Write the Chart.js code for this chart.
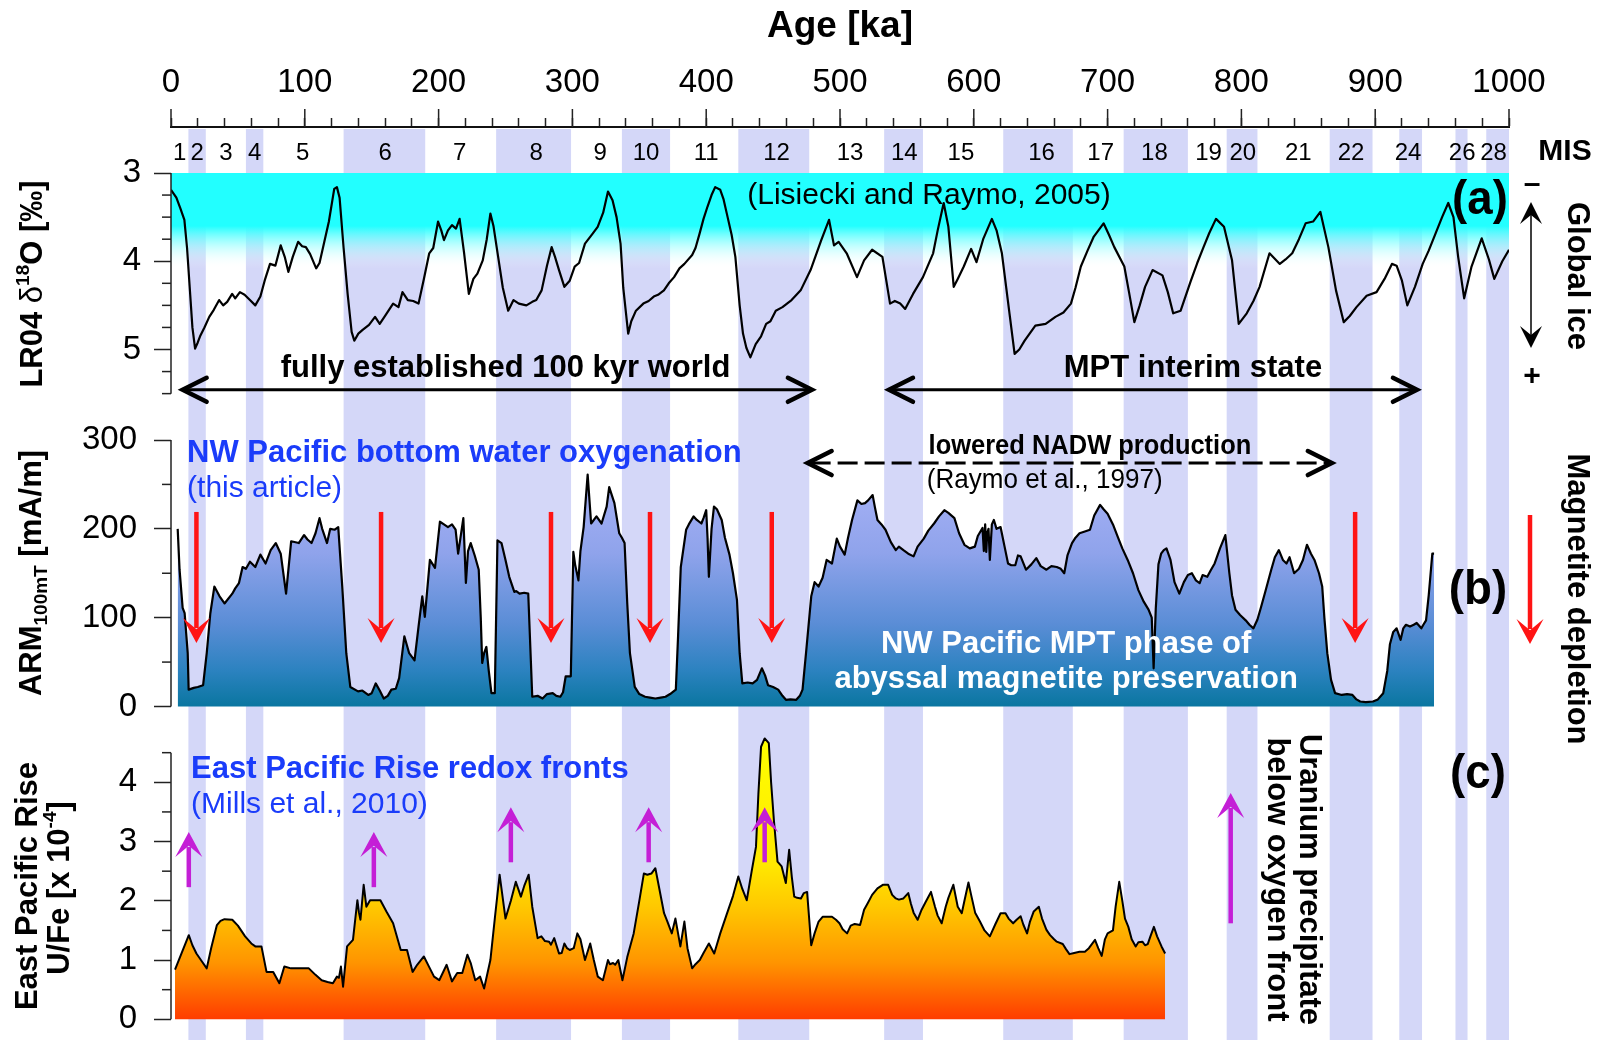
<!DOCTYPE html>
<html><head><meta charset="utf-8">
<script src="https://cdn.jsdelivr.net/npm/chart.js@4.4.1/dist/chart.umd.min.js"></script>
<style>html,body{margin:0;padding:0;background:#fff;}canvas{display:block;}</style>
</head><body>
<canvas id="c" width="1598" height="1040"></canvas>
<script>
// ---------------- DATA ----------------
// LR04 benthic d18O stack [age ka, permil]
const lr04 = [[0,3.19],[4,3.28],[7,3.40],[10,3.53],[12,3.85],[14,4.30],[16,4.75],[18,4.99],[20,4.92],[22,4.84],[25,4.75],[28.6,4.63],[32,4.55],[36,4.44],[39,4.50],[42,4.46],[45.7,4.37],[48,4.42],[51.5,4.35],[55,4.38],[59,4.44],[63,4.50],[66.8,4.40],[70,4.22],[74,4.03],[78,4.05],[82,3.82],[85,3.95],[87.7,4.12],[91,3.95],[95,3.78],[98,3.83],[100.8,3.84],[104,3.92],[108.5,4.08],[111,4.02],[114,3.82],[118,3.55],[122,3.18],[124,3.16],[126,3.28],[129,3.85],[132,4.37],[135,4.80],[137,4.90],[140,4.82],[143,4.78],[148,4.72],[152.5,4.63],[156,4.71],[160,4.62],[166,4.48],[170,4.52],[173,4.35],[177,4.44],[181,4.45],[185,4.48],[189,4.20],[193,3.91],[196,3.85],[199.6,3.55],[202,3.65],[204,3.76],[207,3.65],[210,3.59],[213,3.63],[215.7,3.52],[219,3.90],[222.6,4.37],[226,4.20],[229,4.14],[233,3.99],[236,3.75],[238.7,3.46],[241,3.60],[244.5,3.95],[248,4.30],[252,4.56],[256,4.44],[260,4.48],[265.6,4.50],[270,4.46],[273,4.44],[277,4.33],[281,4.05],[284.5,3.84],[287,3.95],[290,4.10],[294,4.29],[298,4.22],[301.7,4.06],[305,4.02],[309.4,3.80],[315,3.69],[318.9,3.61],[323,3.45],[326.6,3.21],[330,3.31],[333,3.50],[336,3.80],[338,4.30],[341.7,4.82],[344,4.68],[347.5,4.56],[353,4.48],[357,4.45],[360.8,4.40],[364,4.38],[368.4,4.33],[372,4.25],[376,4.18],[380,4.08],[383.7,4.03],[389.5,3.93],[392,3.85],[395,3.69],[398,3.52],[401,3.38],[404,3.25],[406.7,3.16],[410.5,3.19],[413,3.30],[416,3.50],[419,3.70],[421.8,3.95],[425,4.50],[427.5,4.82],[430,4.98],[433,5.09],[437,4.94],[441,4.85],[444.8,4.71],[448,4.68],[452,4.56],[457,4.52],[463.8,4.44],[470.6,4.33],[478,4.10],[486,3.76],[491.8,3.53],[495.5,3.82],[499,3.78],[505,3.91],[512.7,4.18],[518,3.99],[524,3.87],[531.7,3.95],[537.4,4.48],[541,4.45],[545,4.48],[548.7,4.54],[554.6,4.37],[562,4.18],[569.6,3.91],[573,3.65],[577.5,3.34],[581,3.61],[585,4.29],[588,4.20],[592.5,4.06],[598,3.86],[602,4.01],[607,3.75],[613.5,3.52],[617,3.65],[621,3.91],[627,4.63],[630.5,5.05],[634,5.00],[638,4.90],[646,4.73],[653.7,4.71],[661,4.63],[667,4.58],[672.6,4.48],[676,4.30],[680,4.06],[685,3.88],[689.7,3.72],[697,3.57],[701,3.70],[705,3.84],[712.5,4.06],[716,4.35],[720,4.69],[724,4.50],[728,4.29],[733.6,4.10],[741,4.16],[745,4.35],[749,4.59],[754.6,4.56],[762,4.23],[767,4.02],[771.7,3.84],[776,3.68],[781,3.52],[787,3.61],[793,3.99],[798,4.71],[804,4.59],[809,4.45],[813.6,4.29],[821,3.91],[828.7,4.03],[833,3.98],[838,3.91],[843,3.75],[848,3.57],[853.6,3.55],[859,3.44],[865,3.84],[870.7,4.33],[876.5,4.69],[881,4.62],[886,4.52],[893.6,4.39],[901,4.35],[907,4.20],[912.5,4.03],[916,4.05],[920,4.22],[924,4.50],[929.7,4.29],[935.5,4.03],[940,3.88],[945,3.69],[950,3.50],[954.6,3.34],[958.5,3.50],[962,3.95],[966.5,4.42],[972,4.06],[979.6,3.74],[985,3.98],[989,4.20],[995,4.00],[1000,3.87]];

// ARM100mT [mA/m]
const arm = [[5,200],[6.4,154],[8.7,111],[10.2,105],[12.5,60],[13.2,19],[17,21],[20,22],[24,24],[26.7,60],[29.4,105],[32.4,135],[36.3,124],[40,116],[45.8,127],[48,133],[50.8,139],[53.5,157],[56,155],[59,163],[63,157],[66.8,171],[70.7,161],[74.5,176],[78.3,184],[82,172],[86,127],[89.8,186],[95.5,184],[99.4,193],[102,188],[105,184],[108,195],[111,212],[113,200],[116.6,184],[119,200],[122.4,199],[125,202],[128,135],[131,60],[134,22],[139.8,17],[143,18],[147.4,13],[150,15],[153,26],[156,18],[159,9],[162,12],[164.7,19],[168,20],[170.5,32],[174.4,79],[178,60],[182,52],[185,90],[187.8,124],[189.7,101],[193.5,165],[197.3,156],[201,208],[204,205],[207,202],[210,205],[212.7,199],[214.6,172],[218.5,212],[220.4,139],[222,175],[224,184],[227,170],[230,154],[231.5,100],[232.6,49],[234,60],[235.7,67],[237.5,40],[239.5,15],[242,15],[244,187],[247,184],[250,165],[252.8,146],[256.6,129],[258,130],[260.5,127],[264,128],[267,127],[270,11],[274,12],[277.7,9],[281,14],[285.3,15],[288,12],[291,11],[293,16],[295,34],[298.8,34],[300.7,174],[302,160],[304.5,142],[306,175],[308.4,202],[311.4,261],[314,206],[318,214],[321.8,206],[325.6,225],[327.5,247],[331.4,229],[335,195],[337,190],[339,184],[341,116],[343,60],[346.6,22],[350,14],[354.3,11],[358,10],[362,9],[366,10],[369.6,11],[373,14],[377.3,19],[379,80],[381,157],[385,199],[387,205],[390.6,214],[393,210],[396.4,206],[398,212],[400,221],[401,190],[402,146],[404,200],[405.8,225],[408,222],[411.6,210],[414,190],[417.4,171],[420,150],[423,120],[425,60],[427,26],[431,27],[434.7,26],[438,30],[441.6,43],[444,35],[446.2,24],[450,22],[453.8,19],[457,12],[459.6,7.5],[463,8],[467.3,7.5],[470,12],[472,19],[474.6,60],[478.5,124],[481,140],[484,135],[487,145],[490,165],[494,161],[497.6,189],[500,180],[503.5,171],[506,190],[509,210],[513,232],[516,228],[518.7,229],[521,232],[524.4,238],[526,225],[528,210],[531,205],[534,199],[538,185],[541.7,176],[544,180],[547.4,176],[551,172],[555,169],[558,180],[562.6,189],[566,198],[570.3,206],[574,214],[578,221],[581,218],[585.5,212],[589,195],[593,182],[597,178],[600.8,180],[603,192],[606.5,201],[607.5,175],[608.5,205],[609.3,174],[610,195],[611,200],[612,165],[613.5,205],[615,210],[617,200],[620,202],[623,180],[625.6,161],[628,159],[631,159],[633,170],[635,169],[639,154],[643,160],[646.7,167],[650,158],[654.3,154],[658,158],[662,157],[665,155],[667.6,150],[670,170],[673.4,184],[676,190],[679,195],[683,197],[686.8,199],[690,215],[694.4,227],[697,222],[700,217],[704,205],[707.6,191],[711,178],[715,165],[719,150],[723,131],[727,118],[730.6,109],[733,100],[734.4,43],[736,110],[738,160],[740,172],[742,176],[744,178],[747,165],[750,140],[753.6,127],[757,140],[760,148],[763,150],[766,142],[768.8,139],[771,148],[774.5,146],[777,153],[780,161],[784,178],[788,193],[791,150],[793,125],[795.6,109],[799,103],[803.2,97],[806,92],[809,88],[812,98],[814.7,112],[818,130],[822.3,154],[825,168],[828,176],[831,165],[833.7,161],[836,168],[839.4,150],[843,155],[846,165],[849,182],[852,172],[854.6,165],[858,150],[860.4,135],[862,100],[864.2,60],[867,30],[870,15],[875,13],[879,14],[883,13],[886,8],[888.8,5.6],[893,5],[898.3,5.6],[902,8],[906,15],[909,40],[911,70],[913.5,84],[916,88],[919,75],[921,88],[923,92],[926,90],[928.8,92],[931,94],[934.5,88],[936,92],[938,97],[940,125],[942.7,172],[944,172]];

// East Pacific Rise U/Fe [x1e-4]
const ufe = [[3,0.84],[8,1.12],[13.3,1.42],[16,1.25],[19,1.11],[23,0.98],[26.7,0.86],[30,1.20],[34.3,1.59],[37,1.66],[40,1.69],[45.8,1.68],[50,1.58],[55.4,1.40],[60,1.28],[63,1.23],[67.6,1.23],[71.4,0.80],[76.4,0.80],[81,0.61],[84.7,0.89],[89.7,0.86],[95,0.86],[103,0.86],[108,0.75],[112.6,0.66],[117,0.63],[121,0.61],[124,0.72],[125.5,0.70],[127,0.89],[128.6,0.55],[131.6,1.23],[136,1.34],[139.3,2.01],[140.5,1.80],[141.6,1.68],[144,2.27],[146,1.90],[148.8,2.01],[152,2.01],[156.5,2.01],[161,1.82],[166,1.62],[171.7,1.17],[176.4,1.17],[180.6,0.80],[184,0.92],[189,1.06],[193,0.88],[196.6,0.72],[200.5,0.66],[206,0.92],[210,0.64],[213.9,0.78],[217.7,0.78],[221.5,1.09],[224,0.95],[227.4,0.66],[231,0.72],[234,0.52],[238.7,1.00],[242,1.70],[245.6,2.44],[250,1.70],[254,2.00],[257.7,2.32],[261.5,2.07],[264,2.25],[267.3,2.44],[270,1.90],[274,1.37],[276.8,1.40],[279.5,1.32],[282.6,1.31],[284,1.26],[286.4,1.37],[290,1.11],[292,1.12],[294,1.28],[296,1.20],[298,1.17],[301,1.20],[303.7,1.45],[306,1.35],[309.4,1.00],[313.3,1.28],[316,1.00],[319,0.72],[322.8,0.66],[326.6,1.00],[328,0.93],[330.4,0.95],[332,0.92],[334.3,1.00],[337.4,0.66],[341,1.05],[345.8,1.45],[350,2.00],[353.4,2.46],[356,2.44],[359,2.46],[362,2.55],[365,2.20],[368.5,1.79],[371,1.65],[374.3,1.45],[377,1.70],[380.7,1.23],[383.7,1.65],[386,1.20],[389.5,0.86],[392,0.93],[395.2,1.00],[398,1.12],[402,1.28],[406,1.11],[410.5,1.45],[415,1.75],[420,2.08],[424,2.41],[427,2.20],[430.3,2.01],[434,2.50],[437.2,2.91],[439,3.80],[441,4.60],[443.7,4.74],[446.8,4.66],[448.5,4.00],[450.6,3.36],[453.3,2.66],[456.4,2.58],[459.5,2.30],[462,2.86],[464,2.40],[465.8,2.07],[468,2.05],[470.8,2.04],[473,2.13],[475.4,2.15],[478.5,1.25],[481,1.45],[484,1.65],[487,1.73],[490,1.73],[494,1.73],[497,1.68],[499.6,1.62],[502,1.52],[505.3,1.45],[508,1.58],[511,1.61],[515,1.59],[518,1.85],[520.7,1.96],[524,2.10],[528,2.21],[532,2.27],[536,2.27],[539,2.10],[541.7,2.04],[544,2.02],[547.4,2.04],[551,2.13],[553,1.95],[555,1.80],[558,1.68],[561,1.85],[564,1.98],[568,2.15],[571,1.90],[573,1.75],[576,1.62],[579,1.90],[581,2.05],[584.7,2.27],[588,1.90],[591,1.79],[593,2.00],[596,2.31],[598,2.10],[601,1.80],[604.6,1.65],[608,1.50],[612,1.40],[616,1.60],[620,1.79],[623.7,1.79],[626,1.70],[629.4,1.62],[632,1.68],[635,1.74],[637,1.60],[639.8,1.45],[642,1.65],[644.8,1.82],[648.6,1.90],[651,1.70],[654.3,1.51],[657,1.42],[660,1.35],[662,1.31],[666.5,1.27],[669,1.18],[671.5,1.10],[675,1.12],[679,1.14],[683,1.14],[686,1.20],[690.6,1.34],[693,1.20],[695.6,1.07],[698,1.35],[700,1.45],[704,1.50],[706,1.90],[708.7,2.32],[711,2.00],[713,1.70],[715.5,1.56],[718,1.35],[721,1.23],[723,1.30],[726,1.31],[728,1.25],[730,1.27],[732,1.40],[734.6,1.56],[737,1.40],[740.3,1.23],[743,1.11]];

// Marine isotope stages: glacial (even) intervals shaded [ka]
const misStart = [13, 56, 129, 243, 337, 424, 533, 622, 712, 789, 866, 918, 960, 983];
const misEnd   = [26, 69, 190, 299, 373, 477, 562, 674, 760, 812, 898, 935, 969, 1000];
const misLabels   = ['1','2','3','4','5','6','7','8','9','10','11','12','13','14','15','16','17','18','19','20','21','22','24','26','28'];
const misLabelAge = [6.5,19.5,41,62.5,98.5,160,215.7,273,320.8,355,400,452.6,507.5,548,590.4,650.6,694.8,735,775.5,801,842.5,882,924.5,965,988.5];

// tick values
const xMajorTicks = [0,100,200,300,400,500,600,700,800,900,1000];
const yaTicks = [3,3.25,3.5,3.75,4,4.25,4.5,4.75,5,5.25,5.5];
const ybTicks = [0,50,100,150,200,250,300];
const ycTicks = [0,0.5,1,1.5,2,2.5,3,3.5,4,4.5];

// annotation anchors [ka]
const redArrowAge = [19, 157, 284, 358, 449, 885];
const magentaArrows = [[13.3,2.23,3.16],[151.6,2.23,3.16],[254,2.65,3.58],[357,2.65,3.58],[443.7,2.65,3.58],[792,1.62,3.82]];

// ---------------- LAYOUT ----------------
const FAM = "'Liberation Sans', Arial, Helvetica, sans-serif";
Chart.defaults.font.family = FAM;
const TOP = 127, BOT = 1040;
function span(p1, v1, p2, v2) {
  const k = (v2 - v1) / (p2 - p1);
  return { top: v1 + (TOP - p1) * k, bot: v1 + (BOT - p1) * k };
}
const rA = span(173, 3, 349.5, 5);
const rB = span(440, 300, 706.5, 0);
const rC = span(782.3, 4, 1019.3, 0);

const BAND = '#d4d7f8';
const BLUE = '#1a3cfa';
const RED = '#ff1414';
const MAG = '#c41fd6';

function toXY(a) { return a.map(p => ({x: p[0], y: p[1]})); }

function yAxis(min, max, reverse, ticks, isMajor, pad) {
  return {
    type: 'linear', position: 'left', min, max, reverse,
    afterBuildTicks: s => { s.ticks = ticks.map(v => ({value: v})); },
    afterFit: s => { s.width = 0; s.paddingTop = 0; s.paddingBottom = 0; },
    border: {display: false},
    grid: {drawOnChartArea: false, drawTicks: true, tickLength: 17, tickWidth: 1.5,
      tickColor: c => (c.tick && isMajor(c.tick.value)) ? '#222' : 'rgba(0,0,0,0)'},
    ticks: {autoSkip: false, padding: pad, color: '#000', font: {size: 33},
      callback: v => isMajor(v) ? String(v) : ''}
  };
}

function txt(ctx, s, x, y, o) {
  o = o || {};
  ctx.save();
  ctx.translate(x, y);
  if (o.rot) ctx.rotate(o.rot);
  if (o.sx) ctx.scale(o.sx, 1);
  ctx.font = (o.weight || 'normal') + ' ' + (o.size || 31) + 'px ' + FAM;
  ctx.fillStyle = o.color || '#000';
  ctx.textAlign = o.align || 'center';
  ctx.textBaseline = 'middle';
  ctx.fillText(s, 0, 0);
  ctx.restore();
}
function runs(ctx, parts, cx, cy, rot, main) {
  ctx.save();
  ctx.translate(cx, cy); ctx.rotate(rot);
  let total = 0;
  parts.forEach(p => { ctx.font = p[2] + ' ' + p[1] + 'px ' + FAM; p.w = ctx.measureText(p[0]).width; total += p.w; });
  let x = -total / 2;
  ctx.textBaseline = 'alphabetic'; ctx.textAlign = 'left'; ctx.fillStyle = '#000';
  parts.forEach(p => { ctx.font = p[2] + ' ' + p[1] + 'px ' + FAM; ctx.fillText(p[0], x, 0.36 * main + (p[3] || 0)); x += p.w; });
  ctx.restore();
}
function blockArrow(ctx, x, yTail, yTip, color, lw, hw, hl) {
  const d = Math.sign(yTip - yTail);
  ctx.save();
  ctx.strokeStyle = color; ctx.fillStyle = color; ctx.lineWidth = lw; ctx.lineCap = 'butt';
  ctx.beginPath(); ctx.moveTo(x, yTail); ctx.lineTo(x, yTip - d * hl * 0.6); ctx.stroke();
  ctx.beginPath();
  ctx.moveTo(x, yTip);
  ctx.lineTo(x - hw / 2, yTip - d * hl);
  ctx.lineTo(x, yTip - d * hl * 0.55);
  ctx.lineTo(x + hw / 2, yTip - d * hl);
  ctx.closePath(); ctx.fill();
  ctx.restore();
}
function dblArrow(ctx, x1, x2, y, lw, hl, hw, dash) {
  ctx.save();
  ctx.strokeStyle = '#000'; ctx.lineWidth = lw;
  if (dash) ctx.setLineDash(dash);
  ctx.beginPath(); ctx.moveTo(x1 + 3, y); ctx.lineTo(x2 - 3, y); ctx.stroke();
  ctx.setLineDash([]);
  ctx.lineWidth = lw + 1.5; ctx.lineJoin = 'miter'; ctx.lineCap = 'round';
  ctx.beginPath(); ctx.moveTo(x1 + hl, y - hw); ctx.lineTo(x1, y); ctx.lineTo(x1 + hl, y + hw); ctx.stroke();
  ctx.beginPath(); ctx.moveTo(x2 - hl, y - hw); ctx.lineTo(x2, y); ctx.lineTo(x2 - hl, y + hw); ctx.stroke();
  ctx.restore();
}

const decor = {
  id: 'decor',
  afterLayout(chart) {
    // let the zero-width left axes draw their labels into the left margin
    ['ya', 'yb', 'yc'].forEach(id => { const s = chart.scales[id]; if (s) s.left = 0; });
  },
  beforeDraw(chart) {
    const {ctx, chartArea: ca, scales: s} = chart;
    ctx.save();
    ctx.fillStyle = '#fff'; ctx.fillRect(0, 0, chart.width, chart.height);
    ctx.fillStyle = BAND;
    for (let i = 0; i < misStart.length; i++) {
      const a = s.x.getPixelForValue(misStart[i]), b = s.x.getPixelForValue(misEnd[i]);
      ctx.fillRect(a, ca.top + 2, b - a, chart.height - ca.top - 2);
    }
    const y0 = s.ya.getPixelForValue(3), y1 = s.ya.getPixelForValue(3.6), y2 = s.ya.getPixelForValue(4.08);
    const g = ctx.createLinearGradient(0, y0, 0, y2);
    g.addColorStop(0, 'rgb(34,255,255)');
    g.addColorStop((y1 - y0) / (y2 - y0), 'rgb(34,255,255)');
    g.addColorStop(1, 'rgba(255,255,255,0)');
    ctx.fillStyle = g;
    const xa = s.x.getPixelForValue(0), xb = s.x.getPixelForValue(1000);
    ctx.fillRect(xa, y0, xb - xa, y2 - y0);
    ctx.restore();
  },
  afterDraw(chart) {
    const {ctx, chartArea: ca, scales: s} = chart;
    const X = v => s.x.getPixelForValue(v);
    const YA = v => s.ya.getPixelForValue(v);
    const YB = v => s.yb.getPixelForValue(v);
    const YC = v => s.yc.getPixelForValue(v);
    ctx.save();
    ctx.strokeStyle = '#222'; ctx.lineWidth = 1.5;
    // major x ticks (longer)
    xMajorTicks.forEach(v => { ctx.beginPath(); ctx.moveTo(X(v), ca.top); ctx.lineTo(X(v), ca.top - 18); ctx.stroke(); });
    // y axis lines + minor ticks
    const L = ca.left;
    [[s.ya, 3, 5.5, v => Number.isInteger(v)], [s.yb, 0, 300, v => v % 100 === 0], [s.yc, 0, 4.5, v => Number.isInteger(v)]].forEach(([sc, lo, hi, maj]) => {
      ctx.beginPath(); ctx.moveTo(L, sc.getPixelForValue(lo)); ctx.lineTo(L, sc.getPixelForValue(hi)); ctx.stroke();
      sc.ticks.forEach(t => { if (!maj(t.value)) { const p = sc.getPixelForValue(t.value); ctx.beginPath(); ctx.moveTo(L - 9, p); ctx.lineTo(L, p); ctx.stroke(); } });
    });
    ctx.restore();

    // MIS labels
    misLabels.forEach((l, i) => txt(ctx, l, X(misLabelAge[i]), 153, {size: 24}));
    txt(ctx, 'MIS', ca.right + 56, 152, {size: 30, weight: 'bold'});

    // panel a
    txt(ctx, '(Lisiecki and Raymo, 2005)', X(566.5), YA(3.26), {size: 30});
    txt(ctx, '(a)', X(978.3), YA(3.31), {size: 48, weight: 'bold', sx: 0.95});
    txt(ctx, 'fully established 100 kyr world', X(250), YA(5.21), {size: 31, weight: 'bold'});
    txt(ctx, 'MPT interim state', X(763.8), YA(5.21), {size: 31, weight: 'bold'});
    dblArrow(ctx, X(8.7), X(479), YA(5.457), 3, 24, 12);
    dblArrow(ctx, X(536.6), X(931.2), YA(5.457), 3, 24, 12);
    // global ice
    txt(ctx, '\u2013', ca.right + 23, 185, {size: 30, weight: 'bold'});
    txt(ctx, '+', ca.right + 23, 377, {size: 30, weight: 'bold'});
    ctx.save();
    ctx.strokeStyle = '#000'; ctx.fillStyle = '#000'; ctx.lineWidth = 1.5;
    const gx = ca.right + 22;
    ctx.beginPath(); ctx.moveTo(gx, 206); ctx.lineTo(gx, 344); ctx.stroke();
    [[202, 1], [348, -1]].forEach(([ty, d]) => {
      ctx.beginPath(); ctx.moveTo(gx, ty); ctx.lineTo(gx - 11, ty + d * 22); ctx.lineTo(gx, ty + d * 13); ctx.lineTo(gx + 11, ty + d * 22); ctx.closePath(); ctx.fill();
    });
    ctx.restore();
    txt(ctx, 'Global ice', ca.right + 68, 276, {size: 31, weight: 'bold', rot: Math.PI / 2});

    // panel b
    txt(ctx, 'NW Pacific bottom water oxygenation', X(12), YB(285.4), {size: 31, weight: 'bold', color: BLUE, align: 'left'});
    txt(ctx, '(this article)', X(12), YB(244.9), {size: 30, color: BLUE, align: 'left'});
    dblArrow(ctx, X(475.8), X(867.6), YB(274), 3, 24, 12, [20, 7]);
    txt(ctx, 'lowered NADW production', X(686.8), YB(293.3), {size: 28, weight: 'bold', sx: 0.91});
    txt(ctx, '(Raymo et al., 1997)', X(653), YB(255), {size: 28, sx: 0.93});
    txt(ctx, '(b)', X(976.8), YB(130), {size: 48, weight: 'bold', sx: 0.95});
    txt(ctx, 'NW Pacific MPT phase of', X(669), YB(70.4), {size: 31, weight: 'bold', color: '#fff'});
    txt(ctx, 'abyssal magnetite preservation', X(669), YB(31), {size: 31, weight: 'bold', color: '#fff'});
    redArrowAge.forEach(a => blockArrow(ctx, X(a), YB(219), YB(71.5), RED, 4.5, 27, 25));
    blockArrow(ctx, ca.right + 21, 515, 644, RED, 4.5, 27, 25);
    txt(ctx, 'Magnetite depletion', ca.right + 68, 599, {size: 31, weight: 'bold', rot: Math.PI / 2});

    // panel c
    txt(ctx, 'East Pacific Rise redox fronts', X(15), YC(4.22), {size: 31, weight: 'bold', color: BLUE, align: 'left'});
    txt(ctx, '(Mills et al., 2010)', X(15), YC(3.62), {size: 30, color: BLUE, align: 'left'});
    txt(ctx, '(c)', X(976.8), YC(4.12), {size: 48, weight: 'bold', sx: 0.95});
    magentaArrows.forEach(m => blockArrow(ctx, X(m[0]), YC(m[1]), YC(m[2]), MAG, 4.5, 27, 25));
    txt(ctx, 'Uranium precipitate', X(850.5), YC(2.36), {size: 31, weight: 'bold', rot: Math.PI / 2});
    txt(ctx, 'below oxygen front', X(826), YC(2.36), {size: 31, weight: 'bold', rot: Math.PI / 2});

    // y-axis titles
    runs(ctx, [['LR04 ', 31, 'bold'], ['\u03b4', 31, 'normal'], ['18', 19, 'bold', -13], ['O [\u2030]', 31, 'bold']], 31, 284, -Math.PI / 2, 31);
    runs(ctx, [['ARM', 31, 'bold'], ['100mT', 19, 'bold', 6], [' [mA/m]', 31, 'bold']], 30, 573, -Math.PI / 2, 31);
    runs(ctx, [['East Pacific Rise', 31, 'bold']], 26, 886, -Math.PI / 2, 31);
    runs(ctx, [['U/Fe [x 10', 31, 'bold'], ['-4', 19, 'bold', -13], [']', 31, 'bold']], 58, 888, -Math.PI / 2, 31);
  }
};

new Chart(document.getElementById('c'), {
  type: 'line',
  data: {
    datasets: [
      { label: 'LR04', data: toXY(lr04), yAxisID: 'ya', borderColor: '#000', borderWidth: 2.2, pointRadius: 0, fill: false, tension: 0 },
      { label: 'ARM', data: toXY(arm), yAxisID: 'yb', borderColor: '#000', borderWidth: 2.2, pointRadius: 0, tension: 0, fill: 'origin',
        backgroundColor: c => {
          const ch = c.chart; if (!ch.chartArea) return 'rgba(0,0,0,0)';
          const y = ch.scales.yb;
          const g = ch.ctx.createLinearGradient(0, y.getPixelForValue(265), 0, y.getPixelForValue(0));
          g.addColorStop(0, '#a9b3f7'); g.addColorStop(0.35, '#8fa3eb'); g.addColorStop(0.65, '#5a8dd6');
          g.addColorStop(0.85, '#2b82bf'); g.addColorStop(1, '#0a76a0');
          return g;
        } },
      { label: 'UFe', data: toXY(ufe), yAxisID: 'yc', borderColor: '#000', borderWidth: 2, pointRadius: 0, tension: 0, fill: 'origin',
        backgroundColor: c => {
          const ch = c.chart; if (!ch.chartArea) return 'rgba(0,0,0,0)';
          const y = ch.scales.yc;
          const g = ch.ctx.createLinearGradient(0, y.getPixelForValue(4.75), 0, y.getPixelForValue(0));
          g.addColorStop(0, '#ffff00'); g.addColorStop(0.45, '#ffe800'); g.addColorStop(0.6, '#ffc800');
          g.addColorStop(0.8, '#ff9400'); g.addColorStop(1, '#ff3c00');
          return g;
        } }
    ]
  },
  options: {
    responsive: false, animation: false, devicePixelRatio: 1, events: [],
    layout: { padding: { left: 171, right: 89, top: 0, bottom: 0 } },
    plugins: { legend: { display: false }, tooltip: { enabled: false }, title: { display: false } },
    elements: { line: { borderJoinStyle: 'round' } },
    scales: {
      x: {
        type: 'linear', position: 'top', min: 0, max: 1000,
        afterFit: s => { s.height = TOP; s.paddingLeft = 0; s.paddingRight = 0; },
        border: { display: true, color: '#111', width: 2 },
        grid: { drawOnChartArea: false, drawTicks: true, tickLength: 9, tickWidth: 1.5, tickColor: '#222' },
        ticks: { stepSize: 20, autoSkip: false, maxRotation: 0, minRotation: 0, padding: 15, color: '#000', font: { size: 33 },
          callback: v => (v % 100 === 0 ? String(v) : '') },
        title: { display: true, text: 'Age [ka]', color: '#000', font: { size: 37, weight: 'bold' }, padding: { top: 5, bottom: 0 } }
      },
      ya: Object.assign(yAxis(rA.top, rA.bot, true, yaTicks, v => Number.isInteger(v), 13), { weight: 3 }),
      yb: Object.assign(yAxis(rB.bot, rB.top, false, ybTicks, v => v % 100 === 0, 17), { weight: 2 }),
      yc: Object.assign(yAxis(rC.bot, rC.top, false, ycTicks, v => Number.isInteger(v), 17), { weight: 1 })
    }
  },
  plugins: [decor]
});
</script>
</body></html>
